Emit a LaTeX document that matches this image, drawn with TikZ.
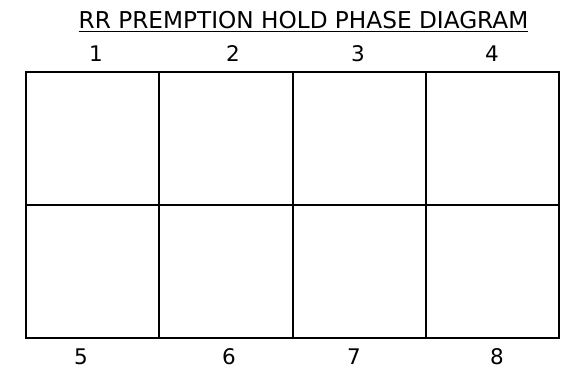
\documentclass[tikz,border=0pt]{standalone}
\usepackage{fontspec}
\setmainfont{DejaVu Sans}
\usepackage{tikz}
\usetikzlibrary{positioning}
\definecolor{cInk}{HTML}{000000}
\tikzset{
  cell/.style={rectangle, draw=cInk, line width=2pt, outer sep=0pt, inner sep=0pt,
    minimum width=133.3pt, minimum height=133pt},
  num/.style={font=\fontsize{21.5}{22}\selectfont, text=cInk, anchor=base, inner sep=0pt},
  title/.style={font=\fontsize{23.2}{24}\selectfont, text=cInk, anchor=base, inner sep=0pt},
}
\begin{document}
\begin{tikzpicture}[x=1pt, y=-1pt]
\useasboundingbox (0,0) rectangle (587,371);
% title
\node[title] (head) at (303.5,29) {\underline{RR PREMPTION HOLD PHASE DIAGRAM}};
% top row
\node[cell, anchor=north west] (c1) at (26,72.5) {};
\node[cell, right=0pt of c1] (c2) {};
\node[cell, right=0pt of c2] (c3) {};
\node[cell, right=0pt of c3] (c4) {};
% bottom row
\node[cell, below=0pt of c1] (c5) {};
\node[cell, right=0pt of c5] (c6) {};
\node[cell, right=0pt of c6] (c7) {};
\node[cell, right=0pt of c7] (c8) {};
% phase numbers
\node[num] (n1) at (96,62) {1};
\node[num] (n2) at (233,62) {2};
\node[num] (n3) at (358,62) {3};
\node[num] (n4) at (492,62) {4};
\node[num] (n5) at (81,365) {5};
\node[num] (n6) at (229,365) {6};
\node[num] (n7) at (354,365) {7};
\node[num] (n8) at (497,365) {8};
\end{tikzpicture}
\end{document}
